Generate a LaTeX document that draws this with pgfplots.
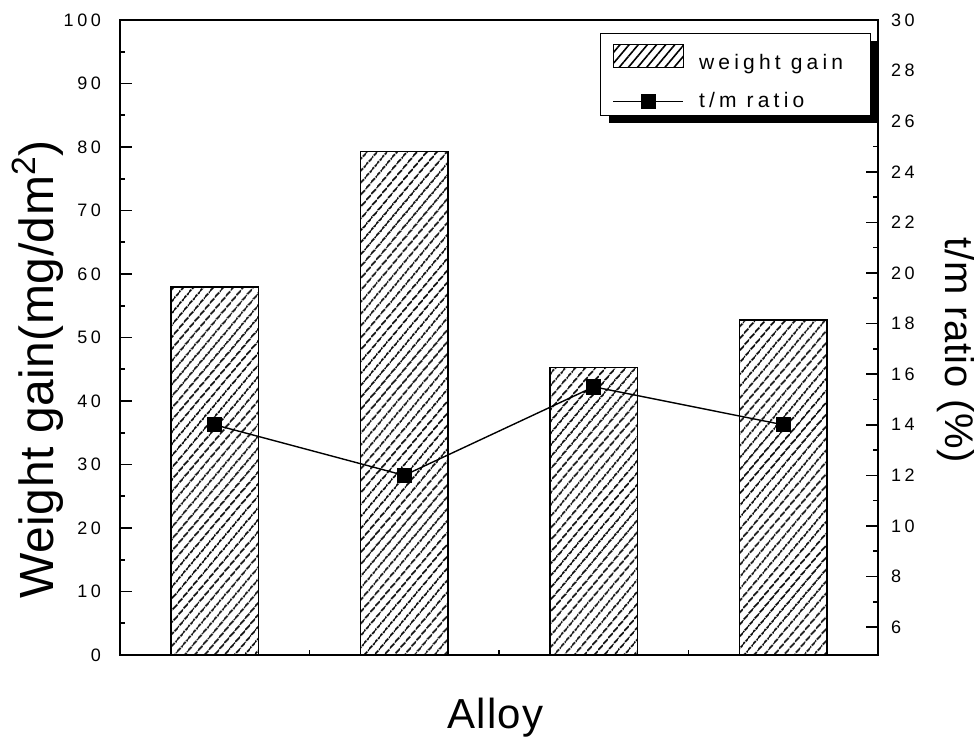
\documentclass[border=0pt]{standalone}
\usepackage{fontspec}
\setmainfont{Liberation Sans}
\usepackage{pgfplots}
\pgfplotsset{compat=1.18}
\usepackage{pgfplotstable}
\usetikzlibrary{patterns.meta,shadows}

% weight gain per alloy (left axis)
\pgfplotstableread{
idx gain
0 58.0
1 79.3
2 45.3
3 52.8
}\gaintable

% t/m ratio per alloy (right axis)
\pgfplotstableread{
idx ratio
0 14.0
1 12.0
2 15.5
3 14.0
}\ratiotable

\newcommand\tickfont{\fontsize{9}{10}\selectfont\addfontfeature{LetterSpace=20}}
\newcommand\legendfont{\fontsize{10.5}{12}\selectfont\addfontfeature{LetterSpace=20}}

% keep the legend's shadow on the legend box only, not on its contents
\makeatletter
\tikzset{no preactions/.code={\let\tikz@preactions\pgfutil@empty}}
\makeatother

\pgfplotsset{
  ratio legend/.style={legend image code/.code={
    \draw[no preactions, mark repeat=2, mark phase=2, ##1]
      plot coordinates {(0pt,0pt) (17.5pt,0pt) (35pt,0pt)};}},
  gain legend/.style={legend image code/.code={
    \draw[no preactions, draw=black, line width=0.6pt,
      pattern={Lines[angle=50,distance=3.5pt,line width=0.8pt]}]
      (0pt,-5.75pt) rectangle (35pt,5.75pt);}},
}

\begin{document}
\begin{tikzpicture}
\path[use as bounding box] (-60pt,-42.5pt) rectangle (429.5pt,327.5pt);
\pgfplotsset{
  common/.style={
    at={(0,0)}, anchor=south west, scale only axis,
    width=379pt, height=317.5pt,
    xmin=-0.5, xmax=3.5,
    axis line style={line width=0.9pt},
    tick style={line width=0.8pt, black},
    major tick length=6pt, minor tick length=2.5pt,
    tick align=inside,
    tick label style={font=\tickfont},
    /pgf/number format/assume math mode=true,
  }
}
\begin{axis}[common,
  ymin=0, ymax=100,
  ytick={0,10,...,100}, minor ytick={5,15,...,95},
  ytick pos=left,
  yticklabel style={xshift=-6pt},
  xtick={0,1,2,3}, xticklabels={A1,A2,B1,B2},
  xtick pos=bottom, xmajorticks=false,
  minor xtick={0.5,1.5,2.5},
  xticklabel style={yshift=-11pt},
  xlabel={Alloy},
  xlabel style={at={(axis description cs:0.495,-0.0992)}, anchor=center,
    font=\fontsize{21}{24}\selectfont\addfontfeature{LetterSpace=3}},
  ylabel={Weight gain(mg/dm\textsuperscript{2})},
  ylabel style={at={(axis description cs:-0.1088,0.45)}, anchor=center,
    font=\fontsize{24}{28}\selectfont\addfontfeature{LetterSpace=1}},
]
\addplot[ybar, bar width=0.46, draw=black, line width=0.8pt,
  pattern={Lines[angle=50,distance=4pt,line width=1pt]}]
  table[x=idx,y=gain]{\gaintable};
\end{axis}

\begin{axis}[common, clip=false,
  axis x line=none, axis y line*=right,
  ymin=4.9, ymax=30,
  ytick={6,8,...,30}, minor ytick={7,9,...,29},
  yticklabel style={xshift=3pt},
  legend cell align=left,
  legend style={at={(0.9904,0.9795)}, anchor=north east,
    draw=black, line width=0.6pt, fill=white,
    drop shadow={shadow xshift=4.3pt, shadow yshift=-3.8pt, fill=black, opacity=1},
    nodes={no preactions},
    font=\legendfont, inner xsep=6pt, inner ysep=0.5pt, row sep=6pt, column sep=5.5pt},
]
\addlegendimage{gain legend}
\addlegendentry{\rule{0pt}{15.5pt}weight gain\hspace*{5.5pt}}
\addplot[black, line width=0.7pt, mark=square*, mark size=3.5pt, ratio legend]
  table[x=idx,y=ratio]{\ratiotable};
\addlegendentry{t/m ratio}
% right-hand axis title, read top to bottom
\node[rotate=-90, anchor=center,
  font=\fontsize{20}{24}\selectfont\addfontfeature{LetterSpace=2}]
  at (axis description cs:1.1022,0.48) {t/m ratio (\%)};
\end{axis}
\end{tikzpicture}
\end{document}
